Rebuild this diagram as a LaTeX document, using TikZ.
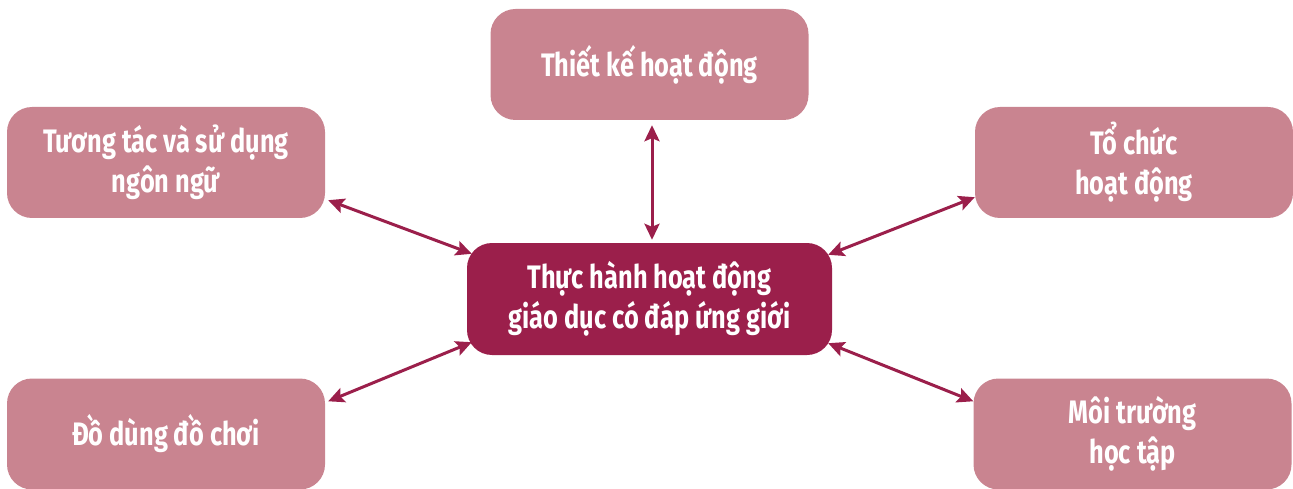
\documentclass[tikz,border=0pt]{standalone}
\usepackage{fontspec}
\setmainfont{Fira Sans}[FakeStretch=0.78]
\usetikzlibrary{arrows.meta,calc}
\definecolor{boxlight}{HTML}{C98490}
\definecolor{boxdark}{HTML}{9B1F4B}
\tikzset{
  sidebox/.style={fill=boxlight, draw=none, rounded corners=25pt, minimum width=318pt, minimum height=111pt, text=white, font=\bfseries\fontsize{32.5}{40}\selectfont, align=center, inner sep=0pt},
  centerbox/.style={sidebox, fill=boxdark, minimum width=365pt, minimum height=112pt},
  link/.style={draw=boxdark, line width=3pt, {Stealth[length=16pt,width=15pt,inset=3pt]}-{Stealth[length=16pt,width=15pt,inset=3pt]}}
}
\begin{document}
\begin{tikzpicture}[x=1pt,y=-1pt]
\useasboundingbox (0,0) rectangle (1293,489);
\node[sidebox] (top) at (649.5,64.5) {Thiết kế hoạt động};
\node[sidebox] (lt) at (166,162.5) {Tương tác và sử dụng\\ngôn ngữ};
\node[sidebox] (rt) at (1134,162.5) {Tổ chức\\hoạt động};
\node[centerbox] (c) at (649.5,299) {Thực hành hoạt động\\giáo dục có đáp ứng giới};
\node[sidebox] (lb) at (166,434) {Đồ dùng đồ chơi};
\node[sidebox] (rb) at (1132.5,434) {Môi trường\\học tập};
\draw[link] ($(top.south)+(2.5,5)$) -- ($(c.north)+(2.5,-3)$);
\draw[link] ($(lt.south east)+(3,-18)$) -- ($(c.north west)+(5,11)$);
\draw[link] ($(rt.south west)+(0,-21)$) -- ($(c.north east)+(-4,12)$);
\draw[link] ($(lb.north east)+(3,23)$) -- ($(c.south west)+(5,-13)$);
\draw[link] ($(rb.north west)+(0,23)$) -- ($(c.south east)+(-4,-12)$);
\end{tikzpicture}
\end{document}
